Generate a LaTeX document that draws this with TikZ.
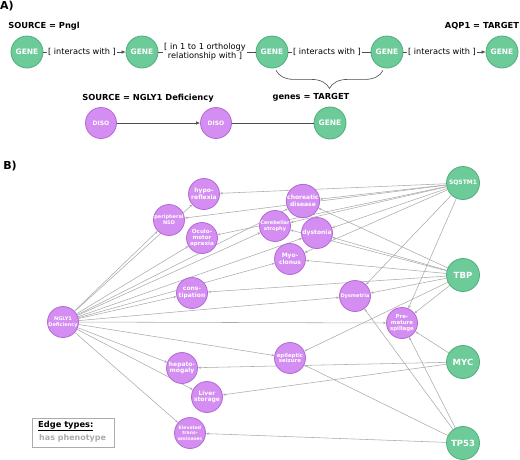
\documentclass[tikz,border=0pt]{standalone}
\usepackage{fontspec}
\setmainfont{DejaVu Sans}
\usetikzlibrary{arrows.meta,decorations.pathreplacing}
\pgfdeclarelayer{background}
\pgfsetlayers{background,main}
\definecolor{genefill}{HTML}{6DCB99}
\definecolor{genedraw}{HTML}{4FAE7C}
\definecolor{disofill}{HTML}{D48DF0}
\definecolor{disodraw}{HTML}{B568D8}
\definecolor{edgegray}{HTML}{ABABAB}
\begin{document}
\begin{tikzpicture}[x=1pt,y=-1pt,
 gene/.style={circle, fill=genefill, draw=genedraw, line width=0.8pt, minimum size=32pt, inner sep=0pt, text=white, align=center, font=\bfseries\fontsize{7.5}{8}\selectfont},
 diso/.style={circle, fill=disofill, draw=disodraw, line width=0.8pt, minimum size=31pt, inner sep=0pt, text=white, align=center, font=\bfseries\fontsize{6}{6.6}\selectfont},
 rel/.style={inner sep=1pt, align=center, font=\fontsize{8.2}{9.2}\selectfont},
 head/.style={inner sep=0pt, font=\bfseries\fontsize{8.3}{10}\selectfont},
 link/.style={draw=black!70, line width=0.6pt},
 hasph/.style={draw=edgegray, line width=0.55pt, -{Stealth[length=3pt,width=2.4pt]}}]
\useasboundingbox (0,0) rectangle (520,459);
\node[inner sep=0pt, font=\bfseries\fontsize{11}{12}\selectfont] (titA) at (7,6){A)};
\node[head] (srcP) at (44,26){SOURCE = Pngl};
\node[head] (tgtA) at (482,26){AQP1 = TARGET};
\node[gene] (g1) at (27,52){GENE};
\node[gene] (g2) at (142,52){GENE};
\node[gene] (g3) at (272,52){GENE};
\node[gene] (g4) at (387,52){GENE};
\node[gene] (g5) at (502,52){GENE};
\node[rel] (r1) at (82,52){[ interacts with ]};
\node[rel] (r2) at (205,52){[ in 1 to 1 orthology\\relationship with ]};
\node[rel] (r3) at (327,52){[ interacts with ]};
\node[rel] (r4) at (442,52){[ interacts with ]};
\draw[link](g1) -- (r1);
\draw[link, -{Latex[length=4pt,width=3.5pt]}](r1) -- (g2);
\draw[link](g2) -- (r2);
\draw[link](r2) -- (g3);
\draw[link](g3) -- (r3);
\draw[link](r3) -- (g4);
\draw[link](g4) -- (r4);
\draw[link, -{Latex[length=4pt,width=3.5pt]}](r4) -- (g5);
\draw[black!70, line width=0.6pt, decorate, decoration={brace, amplitude=18pt}]([xshift=-4pt,yshift=-2pt]g4.south) -- ([xshift=4pt,yshift=-2pt]g3.south);
\node[head] (tgtG) at (311,97){genes = TARGET};
\node[head] (srcN) at (148,98){SOURCE = NGLY1 Deficiency};
\node[diso] (d1) at (101,123){DISO};
\node[diso] (d2) at (216,123){DISO};
\node[gene] (g6) at (330,123){GENE};
\draw[link, -{Latex[length=4pt,width=3.5pt]}](d1) -- (d2);
\draw[link](d2) -- (g6);
\node[inner sep=0pt, font=\bfseries\fontsize{11}{12}\selectfont] (titB) at (10,166){B)};
\node[diso, font=\bfseries\fontsize{5}{5.6}\selectfont] (ngly) at (63,322){NGLY1\\Deficiency};
\node[diso] (hypo) at (204,194){hypo-\\reflexia};
\node[diso, font=\bfseries\fontsize{5}{5.8}\selectfont] (periph) at (169,220){peripheral\\NSD};
\node[diso, font=\bfseries\fontsize{5.6}{6.4}\selectfont] (oculo) at (202,238){Oculo-\\motor\\apraxia};
\node[diso] (chorea) at (303,201){choreatic\\disease};
\node[diso, font=\bfseries\fontsize{5}{5.8}\selectfont] (cereb) at (275,226){Cerebellar\\atrophy};
\node[diso] (dyst) at (317,233){dystonia};
\node[diso] (myo) at (290,259){Myo-\\clonus};
\node[diso] (const) at (192,293){cons-\\tipation};
\node[diso, font=\bfseries\fontsize{5}{5.8}\selectfont] (dysm) at (355,296){Dysmetria};
\node[diso, font=\bfseries\fontsize{5.4}{6.2}\selectfont] (spill) at (402,323){Pre-\\mature\\spillage};
\node[diso, font=\bfseries\fontsize{5.4}{5.8}\selectfont] (epil) at (290,358){epileptic\\seizure};
\node[diso] (hepato) at (182,368){hepato-\\mogaly};
\node[diso] (liver) at (207,397){Liver\\storage};
\node[diso, font=\bfseries\fontsize{4.6}{5.4}\selectfont] (elev) at (190,433){Elevated\\trans-\\aminases};
\node[gene, minimum size=33pt, font=\bfseries\fontsize{6}{7}\selectfont] (sqstm) at (463,183){SQSTM1};
\node[gene, minimum size=33pt, font=\bfseries\fontsize{8.5}{9}\selectfont] (tbp) at (463,275){TBP};
\node[gene, minimum size=33pt, font=\bfseries\fontsize{8.5}{9}\selectfont] (myc) at (463,362){MYC};
\node[gene, minimum size=33pt, font=\bfseries\fontsize{8.5}{9}\selectfont] (tp) at (463,443){TP53};
\begin{pgfonlayer}{background}
\draw[hasph](ngly) -- (hypo);
\draw[hasph](ngly) -- (periph);
\draw[hasph](ngly) -- (oculo);
\draw[hasph](ngly) -- (chorea);
\draw[hasph](ngly) -- (cereb);
\draw[hasph](ngly) -- (dyst);
\draw[hasph](ngly) -- (myo);
\draw[hasph](ngly) -- (const);
\draw[hasph](ngly) -- (dysm);
\draw[hasph](ngly) -- (spill);
\draw[hasph](ngly) -- (epil);
\draw[hasph](ngly) -- (hepato);
\draw[hasph](ngly) -- (liver);
\draw[hasph](ngly) -- (elev);
\draw[hasph](sqstm) -- (hypo);
\draw[hasph](sqstm) -- (periph);
\draw[hasph](sqstm) -- (oculo);
\draw[hasph](sqstm) -- (chorea);
\draw[hasph](sqstm) -- (cereb);
\draw[hasph](sqstm) -- (dyst);
\draw[hasph](sqstm) -- (myo);
\draw[hasph](sqstm) -- (dysm);
\draw[hasph](sqstm) -- (spill);
\draw[hasph](tbp) -- (chorea);
\draw[hasph](tbp) -- (cereb);
\draw[hasph](tbp) -- (dyst);
\draw[hasph](tbp) -- (myo);
\draw[hasph](tbp) -- (const);
\draw[hasph](tbp) -- (dysm);
\draw[hasph](tbp) -- (spill);
\draw[hasph](tbp) -- (epil);
\draw[hasph](myc) -- (spill);
\draw[hasph](myc) -- (hepato);
\draw[hasph](myc) -- (liver);
\draw[hasph](tp) -- (dysm);
\draw[hasph](tp) -- (spill);
\draw[hasph](tp) -- (epil);
\draw[hasph](tp) -- (elev);
\end{pgfonlayer}
\node[draw=edgegray, line width=0.7pt, minimum width=82pt, minimum height=29pt, inner sep=0pt] (legend) at (73,432.5){};
\node[anchor=west, inner sep=0pt, font=\bfseries\fontsize{8.3}{9}\selectfont] (legT) at (38,426){\underline{Edge types:}};
\node[anchor=west, inner sep=0pt, text=edgegray, font=\bfseries\fontsize{8}{9}\selectfont] (legH) at (39,438){has phenotype};
\end{tikzpicture}
\end{document}
